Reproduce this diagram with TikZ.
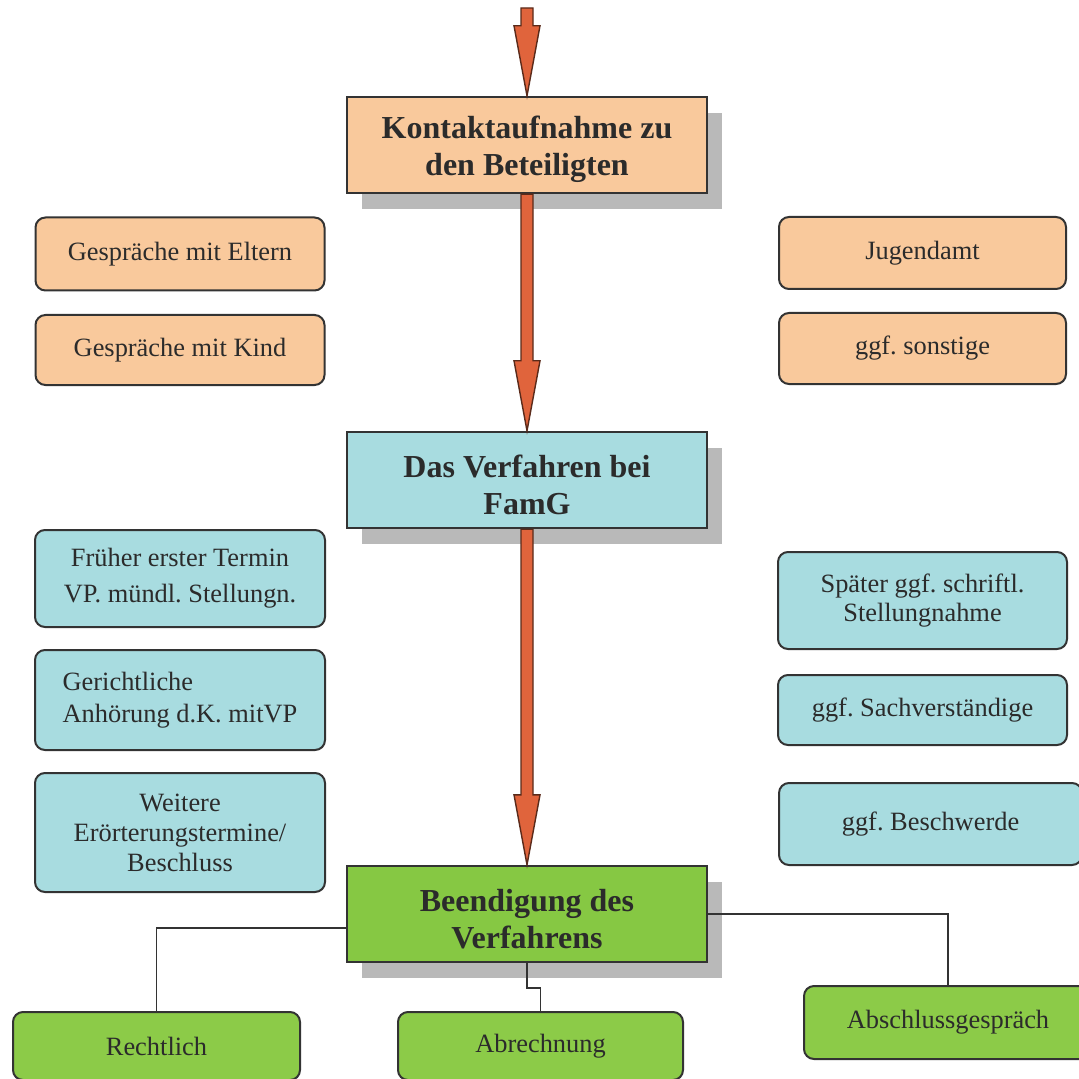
\documentclass[tikz,border=0pt]{standalone}
\usepackage{fontspec}
\setmainfont{Liberation Serif}
\frenchspacing
\usetikzlibrary{calc,shadows}
\definecolor{peach}{HTML}{F9C99C}
\definecolor{lblue}{HTML}{A8DCE0}
\definecolor{lgreen}{HTML}{8CCB48}
\definecolor{mgreen}{HTML}{86C843}
\definecolor{arrowfill}{HTML}{E0643C}
\definecolor{arrowline}{HTML}{5A2A1A}
\definecolor{shadowgray}{HTML}{B9B9B9}
\definecolor{ink}{HTML}{2B2B2B}
\definecolor{edge}{HTML}{333333}
\tikzset{
  mainbox/.style={draw=edge, line width=1.2pt, minimum width=180pt, minimum height=48pt,
    align=center, text=ink, font=\fontsize{16}{18.5}\selectfont\bfseries,
    drop shadow={shadow xshift=7.5pt, shadow yshift=-8pt, fill=shadowgray, opacity=1}},
  subbox/.style={draw=edge, line width=1pt, rounded corners=5pt, align=center, text=ink,
    font=\fontsize{13.2}{15.5}\selectfont, inner sep=0pt},
  peachbox/.style={subbox, fill=peach},
  bluebox/.style={subbox, fill=lblue},
  greenbox/.style={subbox, fill=lgreen},
  conn/.style={draw=edge, line width=0.8pt},
  bigarrow/.style={fill=arrowfill, draw=arrowline, line width=0.7pt, line join=miter},
}
\newcommand\flowarrow[2]{%
  \filldraw[bigarrow] ($(#1)+(-6,0)$) -- ($(#2)+(-6,-70)$) -- ($(#2)+(-13,-70)$) --
    (#2) -- ($(#2)+(13,-70)$) -- ($(#2)+(6,-70)$) -- ($(#1)+(6,0)$) -- cycle;}
\begin{document}
\begin{tikzpicture}[x=0.5pt, y=-0.5pt]
\useasboundingbox (0,0) rectangle (1079,1079);
\clip (0,0) rectangle (1079,1079);
\fill[white] (0,0) rectangle (1079,1079);

% main boxes
\node[mainbox, fill=peach] (k) at (527,145) {\rule{0pt}{16pt}Kontaktaufnahme zu\\den Beteiligten};
\node[mainbox, fill=lblue] (v) at (527,480) {\rule{0pt}{16pt}Das Verfahren bei\\FamG};
\node[mainbox, fill=mgreen] (b) at (527,914) {\rule{0pt}{16pt}Beendigung des\\Verfahrens};

% orange boxes
\node[peachbox, minimum width=144.5pt, minimum height=36.5pt] (e1) at (180,254) {Gespräche mit Eltern};
\node[peachbox, minimum width=144.5pt, minimum height=35pt] (e2) at (180,350) {Gespräche mit Kind};
\node[peachbox, minimum width=143.5pt, minimum height=36pt] (j1) at (922.5,253) {Jugendamt};
\node[peachbox, minimum width=143.5pt, minimum height=35.5pt] (j2) at (922.5,348.5) {ggf. sonstige};

% blue boxes
\node[bluebox, minimum width=145pt, minimum height=48.5pt, font=\fontsize{13.2}{18}\selectfont] (f1) at (180,578.5) {Früher erster Termin\\VP. mündl. Stellungn.};
\node[bluebox, minimum width=145pt, minimum height=50pt, align=left, font=\fontsize{13.2}{16}\selectfont] (f2) at (180,700) {Gerichtliche\\Anhörung d.K. mitVP};
\node[bluebox, minimum width=145pt, minimum height=59.5pt, font=\fontsize{13.2}{15}\selectfont] (f3) at (180,832.5) {Weitere\\Erörterungstermine/\\Beschluss};
\node[bluebox, minimum width=144.5pt, minimum height=48.5pt, font=\fontsize{13.2}{14.5}\selectfont] (s1) at (922.5,600.5) {Später ggf. schriftl.\\Stellungnahme};
\node[bluebox, minimum width=144.5pt, minimum height=35pt] (s2) at (922.5,710) {ggf. Sachverständige};
\node[bluebox, minimum width=151.5pt, minimum height=41pt] (s3) at (930.5,824) {ggf. Beschwerde};

% green boxes
\node[greenbox, minimum width=143.5pt, minimum height=34pt] (g1) at (156.5,1046) {Rechtlich};
\node[greenbox, minimum width=142.5pt, minimum height=34pt] (g2) at (540.5,1046) {Abrechnung};
\node[greenbox, minimum width=144pt, minimum height=36.5pt] (g3) at (948,1022.5) {Abschlussgespräch};

% big arrows
\coordinate (start) at (527,8);
\flowarrow{start}{k.north}
\flowarrow{k.south}{v.north}
\flowarrow{v.south}{b.north}

% connectors
\draw[conn] ([yshift=-7pt]b.west) -| (g1.north);
\draw[conn] (b.east) -| (g3.north);
\draw[conn] (b.south) -- ++(0,25) -| (g2.north);
\end{tikzpicture}
\end{document}
